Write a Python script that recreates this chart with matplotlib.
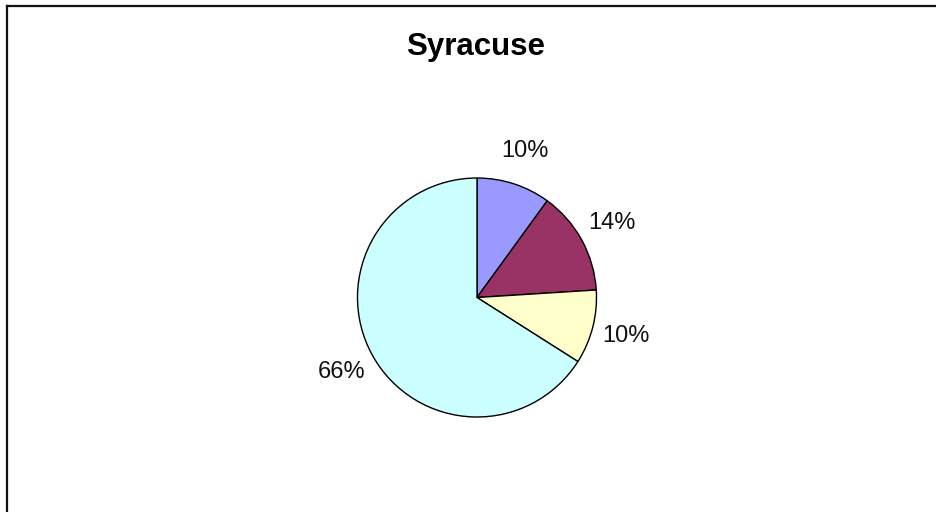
import matplotlib
matplotlib.use("Agg")
import matplotlib.pyplot as plt
from matplotlib.lines import Line2D

title = "Syracuse"
values = [10, 14, 10, 66]
labels = [f"{v}%" for v in values]
colors = ["#9999FF", "#993366", "#FFFFCC", "#CCFFFF"]

W, H = 937, 512
fig = plt.figure(figsize=(W / 100, H / 100), dpi=100)
fig.patch.set_facecolor("white")

# frame lines (only top and left visible)
fig.add_artist(Line2D([7 / W, 7 / W], [0, 1 - 6 / H], transform=fig.transFigure,
                      color="#111111", lw=1.6, solid_capstyle="projecting"))
fig.add_artist(Line2D([7 / W, 1], [1 - 6 / H, 1 - 6 / H], transform=fig.transFigure,
                      color="#111111", lw=1.6, solid_capstyle="projecting"))

cx, cy, r = 477, 297.5, 119.5
half = 1.5 * r
ax = fig.add_axes([(cx - half) / W, (H - cy - half) / H, 2 * half / W, 2 * half / H])
wedges, texts = ax.pie(values, labels=labels, colors=colors, startangle=90,
                       counterclock=False, labeldistance=1.29,
                       wedgeprops=dict(edgecolor="black", linewidth=1.0),
                       textprops=dict(fontsize=17, family=["Liberation Sans", "DejaVu Sans"],
                                      color="#111111"))
for t in texts:
    t.set_horizontalalignment("center")
    t.set_verticalalignment("center")
ax.set_xlim(-1.5, 1.5)
ax.set_ylim(-1.5, 1.5)
ax.set_aspect("equal")
ax.axis("off")

fig.text(476 / W, 1 - 55 / H, title, ha="center", va="baseline", fontsize=22.5,
         fontweight="bold", family=["Liberation Sans", "DejaVu Sans"])

fig.savefig("out.png", dpi=100)
